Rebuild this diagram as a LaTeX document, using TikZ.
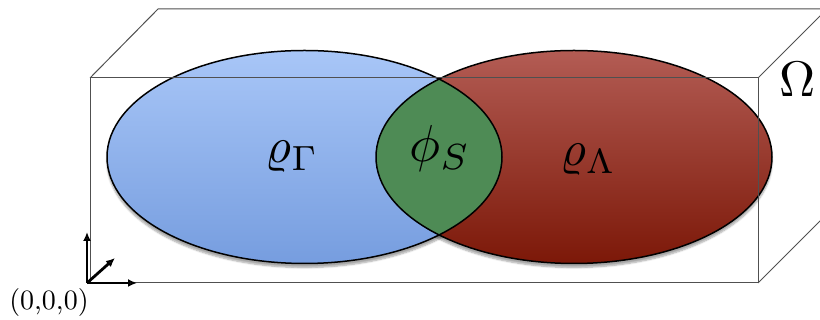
\documentclass[tikz,border=0pt]{standalone}
\definecolor{GammaTop}{HTML}{A8C6F7}
\definecolor{GammaBot}{HTML}{769DDF}
\definecolor{LambdaTop}{HTML}{B35C54}
\definecolor{LambdaBot}{HTML}{7C1808}
\definecolor{SGreen}{HTML}{4E8B55}
\definecolor{BoxGray}{HTML}{505050}
\usepackage{amsmath,amssymb}
\usepackage{tikz}
\usetikzlibrary{arrows.meta,shadows.blur}

\begin{document}
\begin{tikzpicture}[x=1pt,y=1pt,>=Latex]
  \useasboundingbox (0,0) rectangle (820,320);
  % densities
  \fill[white,blur shadow={shadow xshift=0pt,shadow yshift=-4pt,shadow opacity=35,shadow blur steps=6}] (304.5,163) ellipse [x radius=197.5,y radius=106.5];
  \fill[white,blur shadow={shadow xshift=0pt,shadow yshift=-4pt,shadow opacity=35,shadow blur steps=6}] (574,163) ellipse [x radius=198,y radius=106.5];
  \shade[top color=GammaTop,bottom color=GammaBot] (304.5,163) ellipse [x radius=197.5,y radius=106.5];
  \shade[top color=LambdaTop,bottom color=LambdaBot] (574,163) ellipse [x radius=198,y radius=106.5];
  \begin{scope}
    \clip (304.5,163) ellipse [x radius=197.5,y radius=106.5];
    \fill[SGreen] (574,163) ellipse [x radius=198,y radius=106.5];
  \end{scope}
  \draw[line width=1.5pt] (304.5,163) ellipse [x radius=197.5,y radius=106.5];
  \draw[line width=1.5pt] (574,163) ellipse [x radius=198,y radius=106.5];
  % domain box
  \draw[BoxGray,line width=1pt] (90,37) rectangle (758,242);
  \draw[BoxGray,line width=1pt] (90,242) -- (158,311) -- (830,311);
  \draw[BoxGray,line width=1pt] (758,242) -- (830,314);
  \draw[BoxGray,line width=1pt] (758,37) -- (830,109);
  % labels
  \node[inner sep=0pt,scale=5] (rhoG) at (292,163) {$\varrho_\Gamma$};
  \node[inner sep=0pt,scale=5.2] (phiS) at (440,171) {$\phi_S$};
  \node[inner sep=0pt,scale=5] (rhoL) at (588,160) {$\varrho_\Lambda$};
  \node[inner sep=0pt,scale=5] (omega) at (798,241) {$\Omega$};
  % axes
  \coordinate (orig) at (87,37);
  \draw[-{Latex[length=9pt,width=8pt]},line width=2.8pt] (orig) -- ++(0,51);
  \draw[-{Latex[length=9pt,width=8pt]},line width=2.8pt] (orig) -- ++(50,0);
  \draw[-{Latex[length=9pt,width=8pt]},line width=2.8pt] (orig) -- ++(28,25);
  \node[inner sep=0pt,scale=2.8] (origin) at (49,17) {(0,0,0)};
\end{tikzpicture}
\end{document}
